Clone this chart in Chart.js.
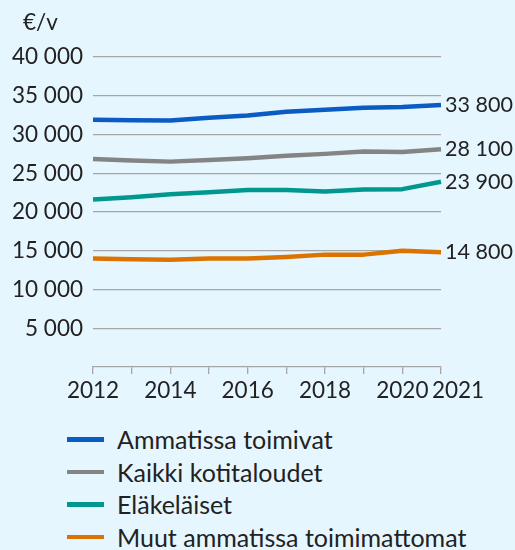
<!DOCTYPE html>
<html>
<head>
<meta charset="utf-8">
<script src="https://cdn.jsdelivr.net/npm/chart.js@4"></script>
<style>
  html, body { margin: 0; padding: 0; background: #e6f6fe; }
  #wrap { position: relative; width: 515px; height: 550px; background: #e6f6fe; }
  #chart { position: absolute; left: 0; top: 0; }
  #legend { position: absolute; left: 67px; top: 423px; font-family: Lato, sans-serif; font-size: 25px; color: #222; }
  .item { display: flex; align-items: center; height: 32.5px; }
  .swatch { width: 37px; height: 4.5px; margin-right: 13px; }
</style>
</head>
<body>
<div id="wrap">
  <canvas id="chart" width="515" height="400"></canvas>
  <div id="legend"></div>
</div>
<script>
const years = ['2012', '2013', '2014', '2015', '2016', '2017', '2018', '2019', '2020', '2021'];
const ammatissa = [31900, 31850, 31800, 32150, 32450, 32950, 33200, 33450, 33550, 33800];
const kaikki = [26850, 26650, 26500, 26700, 26950, 27250, 27500, 27800, 27750, 28100];
const elakelaiset = [21600, 21900, 22300, 22550, 22850, 22850, 22650, 22900, 22950, 23900];
const muut = [14000, 13900, 13850, 14000, 14000, 14200, 14500, 14500, 15000, 14800];
const yTicks = [0, 5000, 10000, 15000, 20000, 25000, 30000, 35000, 40000];

const FONT = 'Lato, sans-serif';
const SIZE = 22.5;
const TEXT = '#222';
const GRID = '#a6a6a6';

// "33 800" style
const fmt = v => String(v).replace(/\B(?=(\d{3})+(?!\d))/g, ' ');

const series = [
  { label: 'Ammatissa toimivat', data: ammatissa, color: '#0a5bc4' },
  { label: 'Kaikki kotitaloudet', data: kaikki, color: '#848484' },
  { label: 'Eläkeläiset', data: elakelaiset, color: '#00978f' },
  { label: 'Muut ammatissa toimimattomat', data: muut, color: '#dc7300' }
];

// unit text, end value labels, and the shifted last year label
const extras = {
  id: 'extras',
  afterDraw(chart) {
    const ctx = chart.ctx;
    const area = chart.chartArea;
    const x = chart.scales.x;
    const y = chart.scales.y;
    ctx.save();
    ctx.font = SIZE + 'px ' + FONT;
    ctx.fillStyle = TEXT;
    ctx.textAlign = 'left';
    ctx.textBaseline = 'alphabetic';
    ctx.fillText('€/v', 23, 30);

    // value labels at the end of each line
    ctx.font = '21.5px ' + FONT;
    ctx.textBaseline = 'middle';
    chart.data.datasets.forEach(ds => {
      const last = ds.data[ds.data.length - 1];
      ctx.fillText(fmt(last), area.right + 4, y.getPixelForValue(last));
    });

    ctx.font = SIZE + 'px ' + FONT;
    ctx.textAlign = 'center';
    const lastX = x.getPixelForTick(years.length - 1);
    ctx.fillText(years[years.length - 1], lastX + 17, x.top + 7 + 3 + SIZE * 1.2 / 2);
    ctx.restore();
  }
};

const ctx = document.getElementById('chart').getContext('2d');
new Chart(ctx, {
  type: 'line',
  data: {
    labels: years,
    datasets: series.map(s => ({
      label: s.label,
      data: s.data,
      borderColor: s.color,
      backgroundColor: s.color,
      borderWidth: 4.5,
      pointRadius: 0,
      tension: 0,
      borderJoinStyle: 'round',
      borderCapStyle: 'butt'
    }))
  },
  options: {
    responsive: false,
    animation: false,
    layout: { padding: { top: 57, right: 74, left: 0, bottom: 0 } },
    plugins: {
      legend: { display: false },
      tooltip: { enabled: false }
    },
    scales: {
      x: {
        offset: false,
        afterFit: s => { s.height = 33; },
        border: { display: true, color: GRID, width: 1.3 },
        grid: { drawOnChartArea: false, drawTicks: true, tickLength: 7, color: GRID, lineWidth: 1.3 },
        ticks: {
          autoSkip: false,
          maxRotation: 0,
          padding: 3,
          color: TEXT,
          font: { family: FONT, size: SIZE },
          callback: (v, i) => (i < years.length - 1 && i % 2 === 0) ? years[i] : ''
        }
      },
      y: {
        min: 0,
        max: 40000,
        afterFit: s => { s.width = 93; },
        afterBuildTicks: s => { s.ticks = yTicks.map(v => ({ value: v })); },
        border: { display: false },
        grid: {
          drawTicks: false,
          lineWidth: 1.3,
          color: c => c.tick && c.tick.value === 0 ? 'rgba(0,0,0,0)' : GRID
        },
        ticks: {
          padding: 10,
          color: TEXT,
          font: { family: FONT, size: SIZE },
          callback: v => v === 0 ? '' : fmt(v)
        }
      }
    }
  },
  plugins: [extras]
});

const legend = document.getElementById('legend');
series.forEach(s => {
  const row = document.createElement('div');
  row.className = 'item';
  const sw = document.createElement('span');
  sw.className = 'swatch';
  sw.style.background = s.color;
  const txt = document.createElement('span');
  txt.textContent = s.label;
  row.appendChild(sw);
  row.appendChild(txt);
  legend.appendChild(row);
});
</script>
</body>
</html>
